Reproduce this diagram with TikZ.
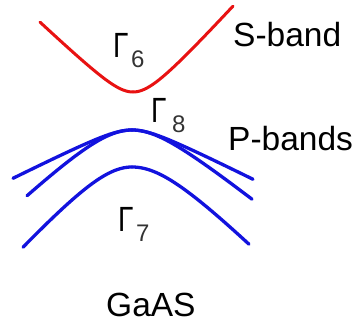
\documentclass[tikz,border=0pt]{standalone}
\usepackage{fontspec}
\setmainfont{Liberation Sans}
\usepackage{graphicx}
\definecolor{bandred}{RGB}{232,18,18}
\definecolor{bandblue}{RGB}{18,18,222}
\tikzset{
  bandlabel/.style={inner sep=0pt, anchor=base west, font=\fontsize{33.5}{36}\selectfont},
  gammalabel/.style={inner sep=0pt, anchor=base west, font=\fontsize{35}{36}\selectfont},
  sublabel/.style={inner sep=0pt, anchor=base west, font=\fontsize{24}{26}\selectfont, text=black!80},
  sband/.style={draw=bandred, line width=3pt, line cap=round},
  pband/.style={draw=bandblue, line width=3.3pt, line cap=round},
}
\begin{document}
\begin{tikzpicture}[x=1pt, y=-1pt]
\useasboundingbox (0,0) rectangle (360,324);
% S-band (Gamma 6)
\draw[sband, smooth, samples=80, domain=40:133] plot ({\x},{92-0.95*(sqrt(22*22+(\x-133)*(\x-133))-22)});
\draw[sband, smooth, samples=80, domain=133:233] plot ({\x},{92-1.1*(sqrt(25*25+(\x-133)*(\x-133))-25)});
% heavy hole
\draw[pband, smooth, samples=80, domain=13:132] plot ({\x},{130+0.5*(sqrt(25*25+(\x-132)*(\x-132))-25)});
\draw[pband, smooth, samples=80, domain=132:253] plot ({\x},{130+0.5*(sqrt(25*25+(\x-132)*(\x-132))-25)});
% light hole
\draw[pband, smooth, samples=80, domain=27:132] plot ({\x},{130+0.95*(sqrt(45*45+(\x-132)*(\x-132))-45)});
\draw[pband, smooth, samples=80, domain=132:252] plot ({\x},{130+0.8*(sqrt(40*40+(\x-132)*(\x-132))-40)});
% split-off (Gamma 7)
\draw[pband, smooth, samples=80, domain=23:132] plot ({\x},{167+1.1*(sqrt(45*45+(\x-132)*(\x-132))-45)});
\draw[pband, smooth, samples=80, domain=132:249] plot ({\x},{167+1.0*(sqrt(50*50+(\x-132)*(\x-132))-50)});
% labels
\node[bandlabel] (sb) at (233,47) {S-band};
\node[bandlabel] (pb) at (228,150) {P-bands};
\node[bandlabel] (gaas) at (106,317) {GaAS};
\node[gammalabel] (g6) at (113,57) {\scalebox{0.8}[1]{Γ}};
\node[sublabel] (g6s) at (131,67) {6};
\node[gammalabel] (g8) at (151,123) {\scalebox{0.8}[1]{Γ}};
\node[sublabel] (g8s) at (172,132) {8};
\node[gammalabel] (g7) at (118,232) {\scalebox{0.8}[1]{Γ}};
\node[sublabel] (g7s) at (136,242) {7};
\end{tikzpicture}
\end{document}
